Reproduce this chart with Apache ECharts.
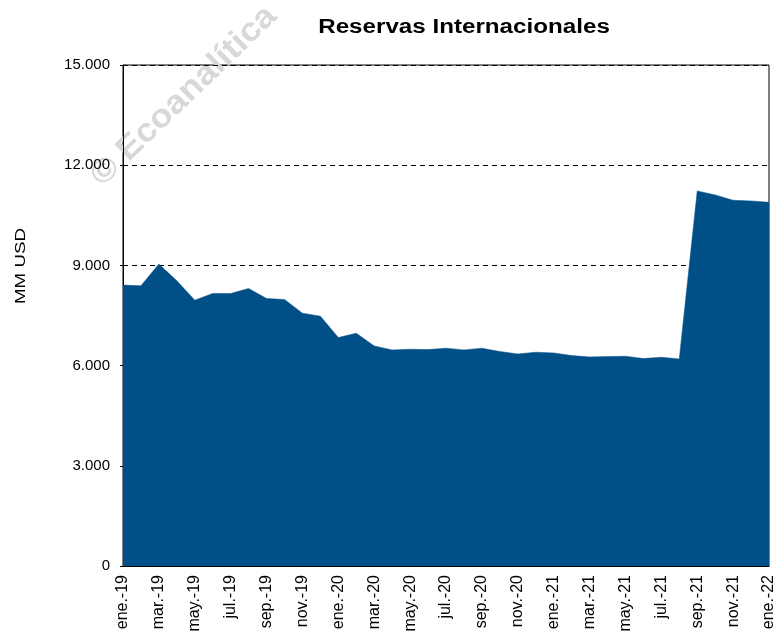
<!DOCTYPE html>
<html>
<head>
<meta charset="utf-8">
<script src="https://cdn.jsdelivr.net/npm/echarts@6/dist/echarts.min.js"></script>
<style>html,body{margin:0;padding:0;background:#fff}#c{width:778px;height:631px}</style>
</head>
<body>
<div id="c"></div>
<script>
const months = ['ene.','feb.','mar.','abr.','may.','jun.','jul.','ago.','sep.','oct.','nov.','dic.'];
const years = ['19','20','21'];
const categories = [];
for (const y of years) for (const m of months) categories.push(m + '-' + y);
categories.push('ene.-22');

const reservas = [
  8410, 8390, 9040, 8540, 7960, 8160, 8160, 8310, 8010, 7980, 7570, 7480,
  6840, 6970, 6590, 6470, 6490, 6480, 6520, 6470, 6520, 6420, 6350, 6400,
  6380, 6300, 6260, 6270, 6280, 6210, 6250, 6200, 11230, 11110, 10950, 10930,
  10890
];

const yTicks = [0, 3000, 6000, 9000, 12000, 15000];

const FONT = '"Liberation Sans", Arial, sans-serif';
const chart = echarts.init(document.getElementById('c'));
chart.setOption({
  animation: false,
  graphic: [
    {
      type: 'text', x: 184, y: 96, rotation: 44 * Math.PI / 180, scaleX: 1.08,
      style: {
        text: '© Ecoanalítica', fill: '#d8d8d8',
        font: 'bold 33px ' + FONT, align: 'center', verticalAlign: 'middle'
      },
      z: 0
    },
    {
      type: 'text', x: 464, y: 28, scaleX: 1.24,
      style: {
        text: 'Reservas Internacionales', fill: '#000',
        font: 'bold 19.5px ' + FONT, align: 'center', verticalAlign: 'middle'
      },
      z: 10
    },
    {
      type: 'text', x: 21, y: 266, rotation: Math.PI / 2, scaleX: 1.22,
      style: {
        text: 'MM USD', fill: '#000',
        font: '15.4px ' + FONT, align: 'center', verticalAlign: 'middle'
      },
      z: 10
    }
  ],
  grid: {
    left: 123, right: 9, top: 65, bottom: 65, show: true, borderColor: '#000', borderWidth: 1,
    containLabel: false, outerBoundsMode: 'none'
  },
  xAxis: {
    type: 'category', data: categories, boundaryGap: false,
    axisLine: { show: true, lineStyle: { color: '#000' } },
    axisTick: { show: false },
    axisLabel: { interval: 1, rotate: 90, color: '#000', fontSize: 16, fontFamily: FONT, margin: 9 },
    splitLine: { show: false }
  },
  yAxis: {
    type: 'value', min: yTicks[0], max: yTicks[yTicks.length - 1], interval: 3000,
    axisLine: { show: true, lineStyle: { color: '#000' } },
    axisTick: { show: true, length: 3, lineStyle: { color: '#000' } },
    axisLabel: {
      color: '#000', fontSize: 15, fontFamily: FONT, margin: 13,
      formatter: v => v === 0 ? '0' : String(v).replace(/\B(?=(\d{3})+(?!\d))/g, '.')
    },
    splitLine: { show: true, lineStyle: { color: '#000', type: [5, 4], width: 1 } }
  },
  series: [{
    type: 'line', data: reservas, symbol: 'none', smooth: false,
    lineStyle: { width: 0.5, color: '#004f87' },
    areaStyle: { color: '#004f87', opacity: 1 },
    z: 3
  }]
});
</script>
</body>
</html>
